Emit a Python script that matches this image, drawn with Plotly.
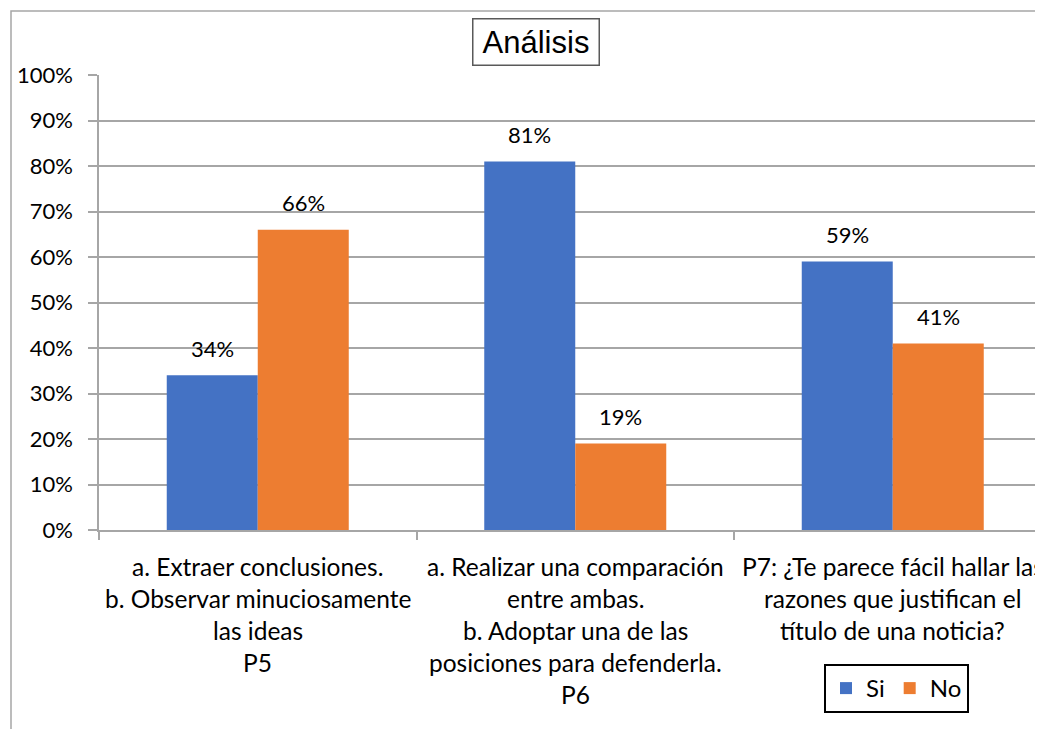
import plotly.graph_objects as go

categories = ["P5", "P6", "P7"]
category_lines = [
    ["a. Extraer conclusiones.", "b. Observar minuciosamente", "las ideas", "P5"],
    ["a. Realizar una comparación", "entre ambas.", "b. Adoptar una de las",
     "posiciones para defenderla.", "P6"],
    ["P7: ¿Te parece fácil hallar las", "razones que justifican el",
     "título de una noticia?"],
]
series_names = ["Si", "No"]
si_values = [0.34, 0.81, 0.59]
no_values = [0.66, 0.19, 0.41]
y_ticks = [i / 10 for i in range(11)]

BLUE = "#4472C4"
ORANGE = "#ED7D31"
GRID = "#a6a6a6"
FONT = "Lato"
TXT = "#000000"

OFF = 8  # default page margin of the html body
W, H = 1043 - OFF, 729 - OFF
L = 99 - OFF
T = 75 - OFF
plot_bottom = 530 - OFF
B = H - plot_bottom
R = 0
plot_w = W - L - R
plot_h = H - T - B
cat_px = 317.5
x_max = -0.5 + plot_w / cat_px


def px_x(p):
    return (p - OFF - L) / plot_w


def px_y(p):
    return (plot_bottom - (p - OFF)) / plot_h


fig = go.Figure()
for name, vals, col in [(series_names[0], si_values, BLUE), (series_names[1], no_values, ORANGE)]:
    fig.add_trace(go.Bar(name=name, x=categories, y=vals, marker=dict(color=col, line=dict(width=0))))

bar_px = 91
annotations = []
for vals, shift in [(si_values, -bar_px / 2), (no_values, bar_px / 2)]:
    for c, v in zip(categories, vals):
        annotations.append(dict(
            x=c, y=v, xref="x", yref="y", text=f"{round(v*100)}%", showarrow=False,
            xshift=shift, yshift=27, yanchor="middle", xanchor="center",
            font=dict(family=FONT, size=22, color=TXT)))

line_y0 = 566
line_step = 32
for c, lines in zip(categories, category_lines):
    for i, txt in enumerate(lines):
        py = line_y0 + i * line_step
        annotations.append(dict(
            x=c, y=0, xref="x", yref="paper", text=txt, showarrow=False,
            yshift=-(py - 530), yanchor="middle", xanchor="center",
            font=dict(family=FONT, size=24.5, color=TXT)))

annotations.append(dict(
    x=px_x(535.5), y=px_y(41.5), xref="paper", yref="paper", text="Análisis",
    showarrow=False, xanchor="center", yanchor="middle",
    font=dict(family="Liberation Sans", size=31, color=TXT),
    bordercolor="#595959", borderwidth=1.5, borderpad=2, width=121, height=41,
    bgcolor="white"))

shapes = [dict(type="path", xref="paper", yref="paper",
               path=f"M {px_x(11)} {px_y(760)} L {px_x(11)} {px_y(11)} L {px_x(1080)} {px_y(11)}",
               line=dict(color=GRID, width=1.5))]

fig.update_layout(
    width=W, height=H,
    margin=dict(l=L, r=R, t=T, b=B, autoexpand=False),
    paper_bgcolor="white", plot_bgcolor="white",
    barmode="group", bargap=1 - 2 * bar_px / cat_px, bargroupgap=0,
    font=dict(family=FONT, size=22, color=TXT),
    showlegend=True,
    legend=dict(orientation="h", x=px_x(824), y=px_y(664), xanchor="left", yanchor="top",
                bordercolor="#000000", borderwidth=2, bgcolor="white",
                font=dict(family=FONT, size=24, color=TXT), itemwidth=30,
                tracegroupgap=0),
    annotations=annotations,
    shapes=shapes,
)
fig.update_xaxes(range=[-0.5, x_max], showline=True, linecolor=GRID, linewidth=1.5,
                 ticks="outside", tickson="boundaries", ticklen=8, tickcolor=GRID, tickwidth=1.5,
                 showticklabels=False, showgrid=False, zeroline=False, automargin=False,
                 fixedrange=True)
fig.update_yaxes(range=[0, 1], tickvals=y_ticks, tickformat=".0%", showline=True, linecolor=GRID,
                 linewidth=1.5, ticks="outside", ticklen=9, tickcolor=GRID, tickwidth=1.5,
                 showgrid=True, gridcolor=GRID, gridwidth=1.5, zeroline=False,
                 ticklabelstandoff=11, automargin=False,
                 tickfont=dict(family=FONT, size=22, color=TXT))

fig.write_html("out.html")
